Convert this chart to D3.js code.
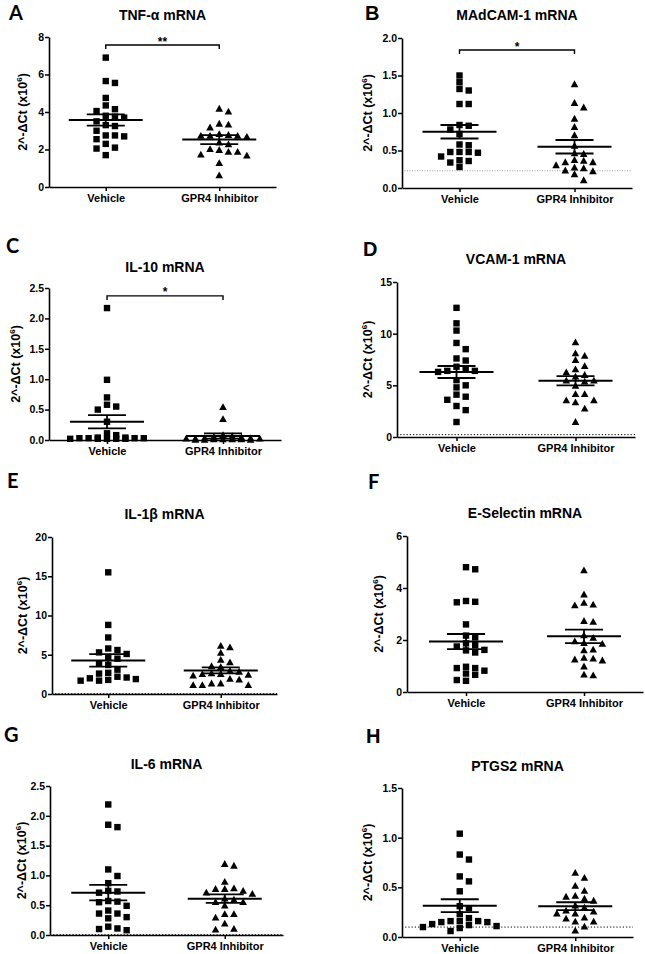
<!DOCTYPE html>
<html><head><meta charset="utf-8">
<script src="https://cdn.jsdelivr.net/npm/d3@7/dist/d3.min.js"></script>
<style>
body{margin:0;background:#fff}
svg text{font-family:"Liberation Sans",Arial,sans-serif;font-weight:bold;fill:#000}
</style>
</head><body>
<svg id="chart" width="645" height="954"></svg>
<script>
// ---------- data ----------
const categories = ["Vehicle", "GPR4 Inhibitor"];
const panelLetters = ["A","B","C","D","E","F","G","H"];
const panelTitles = ["TNF-α mRNA","MAdCAM-1 mRNA","IL-10 mRNA","VCAM-1 mRNA","IL-1β mRNA","E-Selectin mRNA","IL-6 mRNA","PTGS2 mRNA"];
const yMaxValues = [8, 2, 2.5, 15, 20, 6, 2.5, 1.5];
const yTickSteps = [2, 0.5, 0.5, 5, 5, 2, 0.5, 0.5];
const yTickFormats = ["d", ".1f", ".1f", "d", "d", "d", ".1f", ".1f"];
const detectionLimits = [null, 0.23, null, 0.23, 0.05, null, 0.005, 0.1];
const significanceMarks = ["**", "*", "*", null, null, null, null, null];
const significanceLevels = [7.57, 1.84, 2.37, null, null, null, null, null];

const tnfVehicle = [6.9,5.55,5.65,4.75,4.35,4.15,4.05,3.8,3.75,3.7,3.5,3.3,3.25,3.0,2.75,2.7,2.75,2.55,2.3,2.1,2.05,1.7];
const tnfInhibitor = [4.2,4.05,3.4,3.35,3.2,2.85,2.75,2.75,2.8,2.7,2.75,2.4,2.3,2.05,2.0,1.9,1.9,1.75,1.7,1.3,0.65];
const madcamVehicle = [1.5,1.41,1.32,1.30,1.12,1.12,0.84,0.83,0.78,0.72,0.58,0.57,0.48,0.48,0.48,0.47,0.42,0.37,0.36,0.34,0.28];
const madcamInhibitor = [1.39,1.14,1.08,0.93,0.82,0.71,0.57,0.47,0.46,0.38,0.37,0.35,0.35,0.31,0.28,0.27,0.24,0.23,0.19,0.11];
const il10Vehicle = [2.17,0.99,0.70,0.58,0.55,0.50,0.30,0.11,0.08,0.04,0.04,0.03,0.03,0.03,0.03,0.02,0.02,0.02,0.02,0.02];
const il10Inhibitor = [0.55,0.35,0.09,0.07,0.06,0.05,0.04,0.04,0.03,0.03,0.03,0.02,0.02,0.02,0.02,0.01,0.01,0.01];
const vcamVehicle = [12.5,11.0,10.3,9.1,8.5,7.6,7.4,6.8,6.6,6.3,6.4,6.4,5.5,5.0,4.8,4.1,3.9,3.6,3.0,2.6,1.45];
const vcamInhibitor = [9.2,8.15,7.9,7.5,6.9,6.6,6.3,6.05,5.9,5.5,5.5,5.4,5.0,4.2,4.2,3.6,3.6,3.4,2.8,1.5];
const il1bVehicle = [15.5,8.8,7.2,5.8,5.6,5.3,5.1,4.7,4.5,3.9,3.7,3.1,2.7,2.6,2.2,2.0,2.1,1.9,1.8,1.7,1.7];
const il1bInhibitor = [6.2,6.0,5.3,4.4,4.1,3.6,3.5,3.0,2.9,2.7,2.6,2.6,2.5,2.4,2.0,1.9,1.4,1.4,1.2,1.2,1.2];
const eselVehicle = [4.8,4.72,3.5,3.47,3.45,2.6,2.17,2.1,1.87,1.8,1.75,1.62,1.6,1.52,0.97,0.92,0.92,0.82,0.71,0.66,0.46,0.43];
const eselInhibitor = [4.7,3.77,3.45,3.38,3.35,2.75,2.72,2.2,2.1,1.97,1.9,1.87,1.65,1.62,1.33,1.3,1.27,1.23,1.0,0.69,0.66];
const il6Vehicle = [2.19,1.85,1.81,1.1,0.99,0.87,0.74,0.73,0.71,0.57,0.56,0.55,0.49,0.41,0.36,0.36,0.3,0.28,0.14,0.11,0.1,0.08];
const il6Inhibitor = [1.2,1.17,0.9,0.79,0.78,0.78,0.75,0.72,0.7,0.62,0.6,0.56,0.56,0.5,0.36,0.36,0.3,0.2,0.11,0.1];
const ptgs2Vehicle = [1.04,0.83,0.78,0.61,0.56,0.46,0.31,0.29,0.23,0.19,0.16,0.16,0.16,0.15,0.15,0.13,0.12,0.11,0.1,0.09,0.06];
const ptgs2Inhibitor = [0.65,0.6,0.52,0.47,0.42,0.41,0.39,0.37,0.32,0.3,0.27,0.26,0.24,0.24,0.2,0.19,0.16,0.16,0.11,0.07];

const vehicleMeans = [3.57, 0.75, 0.30, 6.29, 4.28, 1.94, 0.71, 0.315];
const vehicleSEM = [0.30, 0.09, 0.11, 0.58, 0.79, 0.29, 0.13, 0.065];
const inhibitorMeans = [2.53, 0.55, 0.066, 5.45, 3.0, 2.14, 0.61, 0.31];
const inhibitorSEM = [0.24, 0.09, 0.044, 0.45, 0.38, 0.26, 0.07, 0.04];

const vehicleSeries = [tnfVehicle, madcamVehicle, il10Vehicle, vcamVehicle, il1bVehicle, eselVehicle, il6Vehicle, ptgs2Vehicle];
const inhibitorSeries = [tnfInhibitor, madcamInhibitor, il10Inhibitor, vcamInhibitor, il1bInhibitor, eselInhibitor, il6Inhibitor, ptgs2Inhibitor];

// ---------- layout (positions only) ----------
const layout = [
  {ax:49,  y0:187, yTop:37,  w:227, titleY:20,   letterX:9,   letterY:20,  ylabDx:22, lfont:"Lato"},
  {ax:402, y0:188, yTop:38,  w:230, titleY:20,   letterX:365, letterY:20,  ylabDx:30, lfont:"Liberation Sans"},
  {ax:49,  y0:440, yTop:288, w:232, titleY:271.5,letterX:6,   letterY:253, ylabDx:29, lfont:"Lato"},
  {ax:397, y0:437, yTop:282, w:238, titleY:263.5,letterX:363, letterY:256, ylabDx:25, lfont:"Liberation Sans"},
  {ax:52,  y0:694, yTop:537, w:225, titleY:519,  letterX:7,   letterY:488, ylabDx:25, lfont:"Lato"},
  {ax:407, y0:692, yTop:536, w:236, titleY:517.5,letterX:368, letterY:489, ylabDx:24, lfont:"Lato"},
  {ax:50,  y0:935, yTop:786, w:233, titleY:769,  letterX:4,   letterY:742, ylabDx:24, lfont:"Lato"},
  {ax:402, y0:937, yTop:788, w:231, titleY:770.5,letterX:366, letterY:743, ylabDx:30, lfont:"Liberation Sans"}
];

const svg = d3.select("#chart");
const SPACING = 9.2, THRESH = 6.6, SQ = 6.4, TRW = 7.6, TRH = 6.8, KMAX = 4;

function swarm(values, y, cx) {
  const pts = values.map(v => ({v, py: y(v)})).sort((a,b) => a.py - b.py);
  const placed = [];
  const order = [0];
  for (let k = 1; k <= KMAX; k++) order.push(k, -k);
  for (const p of pts) {
    let best = null, bestD = -1;
    for (const k of order) {
      const same = placed.filter(q => q.k === k);
      const d = same.length ? d3.min(same, q => Math.abs(q.py - p.py)) : Infinity;
      if (d >= THRESH) { best = k; break; }
      if (d > bestD + 0.5) { bestD = d; best = k; }
    }
    p.k = best;
    placed.push(p);
  }
  placed.forEach(p => p.px = cx + p.k * SPACING);
  return placed;
}

layout.forEach((L, i) => {
  const g = svg.append("g").attr("transform", `translate(${L.ax},0)`);
  const y = d3.scaleLinear().domain([0, yMaxValues[i]]).range([L.y0, L.yTop]);
  const x = d3.scalePoint().domain(categories).range([0, L.w]).padding(0.5);

  // detection limit line
  if (detectionLimits[i] !== null) {
    const gray = i === 1;
    g.append("line").attr("x1", 0).attr("x2", L.w)
      .attr("y1", y(detectionLimits[i])).attr("y2", y(detectionLimits[i]))
      .attr("stroke", gray ? "#8a8a8a" : "#000").attr("stroke-width", gray ? 0.8 : 1)
      .attr("stroke-dasharray", gray ? "1,1.5" : "1.2,2");
  }

  // axes
  const ticks = d3.range(0, yMaxValues[i] + yTickSteps[i] / 2, yTickSteps[i]);
  const ya = g.append("g").call(d3.axisLeft(y).tickValues(ticks).tickFormat(d3.format(yTickFormats[i])).tickSize(4).tickSizeOuter(0).tickPadding(1));
  const xa = g.append("g").attr("transform", `translate(0,${L.y0})`).call(d3.axisBottom(x).tickSize(4).tickSizeOuter(0).tickPadding(3));
  [ya, xa].forEach(a => {
    a.attr("font-family", null);
    a.select(".domain").attr("stroke", "#000").attr("stroke-width", 1.6);
    a.selectAll(".tick line").attr("stroke", "#000").attr("stroke-width", 1.5);
    a.selectAll("text").style("font-size", "10.5px").attr("fill", "#000");
  });
  xa.selectAll("text").style("font-size", "11px");

  // y label
  const ylx = -L.ylabDx, yly = (L.y0 + L.yTop) / 2;
  const yl = g.append("text").attr("transform", `translate(${ylx},${yly}) rotate(-90)`)
    .attr("text-anchor", "middle").style("font-size", "12.5px");
  yl.append("tspan").text("2^-ΔCt (x10");
  yl.append("tspan").attr("dy", -5).style("font-size", "8px").text("6");
  yl.append("tspan").attr("dy", 5).text(")");

  // title & letter
  svg.append("text").attr("x", L.ax + L.w / 2).attr("y", L.titleY).attr("text-anchor", "middle")
    .style("font-size", "14px").text(panelTitles[i]);
  svg.append("text").attr("x", L.letterX).attr("y", L.letterY)
    .style("font-family", L.lfont).style("font-size", "20px").style("font-weight", "bold").text(panelLetters[i]);

  // points
  const vPts = swarm(vehicleSeries[i], y, x(categories[0]));
  const iPts = swarm(inhibitorSeries[i], y, x(categories[1]));
  g.selectAll(".sq").data(vPts).enter().append("rect")
    .attr("x", d => d.px - SQ / 2).attr("y", d => d.py - SQ / 2).attr("width", SQ).attr("height", SQ).attr("fill", "#000");
  g.selectAll(".tr").data(iPts).enter().append("path")
    .attr("d", d => `M${d.px},${d.py - TRH / 2}L${d.px + TRW / 2},${d.py + TRH / 2}L${d.px - TRW / 2},${d.py + TRH / 2}Z`)
    .attr("fill", "#000");

  // mean +/- SEM
  const stats = [[vehicleMeans[i], vehicleSEM[i]], [inhibitorMeans[i], inhibitorSEM[i]]];
  stats.forEach(([m, s], j) => {
    const cx = x(categories[j]);
    g.append("line").attr("x1", cx - 37).attr("x2", cx + 37).attr("y1", y(m)).attr("y2", y(m)).attr("stroke", "#000").attr("stroke-width", 2);
    [m - s, m + s].forEach(v => g.append("line").attr("x1", cx - 19).attr("x2", cx + 19).attr("y1", y(v)).attr("y2", y(v)).attr("stroke", "#000").attr("stroke-width", 1.8));
    g.append("line").attr("x1", cx).attr("x2", cx).attr("y1", y(m - s)).attr("y2", y(m + s)).attr("stroke", "#000").attr("stroke-width", 1.8);
  });

  // significance bracket
  if (significanceMarks[i]) {
    const by = y(significanceLevels[i]);
    const x1 = x(categories[0]), x2 = x(categories[1]);
    g.append("path").attr("d", `M${x1},${by + 4}V${by}H${x2}V${by + 4}`).attr("fill", "none").attr("stroke", "#000").attr("stroke-width", 1.4);
    g.append("text").attr("x", (x1 + x2) / 2).attr("y", by + 0.5).attr("text-anchor", "middle").style("font-size", "12px").text(significanceMarks[i]);
  }
});
</script>
</body></html>
